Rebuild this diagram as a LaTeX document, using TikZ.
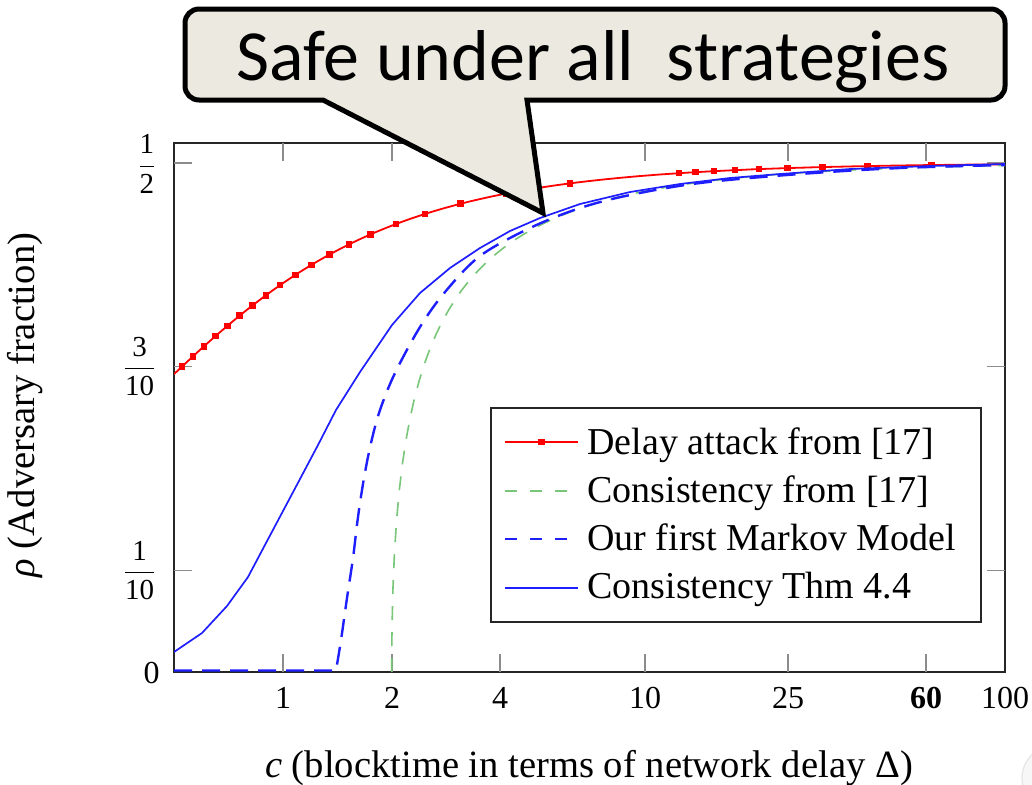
\documentclass[tikz,border=0pt]{standalone}
\usepackage{fontspec}
\setmainfont{Liberation Serif}
\newfontfamily\calloutfont{Carlito}
\definecolor{calloutfill}{RGB}{236,234,224}
\definecolor{consgreen}{RGB}{120,198,120}
\definecolor{plotblue}{RGB}{30,30,255}
\definecolor{plotred}{RGB}{255,0,0}
\begin{document}
\begin{tikzpicture}[x=0.5pt,y=-0.5pt,
  every node/.style={inner sep=0pt},
  ticklabel/.style={anchor=base, font=\fontsize{16}{19}\selectfont},
  fraclabel/.style={anchor=east, font=\fontsize{14.5}{17}\selectfont},
  axistitle/.style={anchor=base, font=\fontsize{19.3}{23}\selectfont},
  legendtext/.style={anchor=base west, font=\fontsize{19}{23}\selectfont},
  frameline/.style={line width=0.9pt, black!85},
  tickmark/.style={line width=0.55pt, black!45},
  delaycurve/.style={plotred, line width=0.9pt, line join=round},
  greencurve/.style={consgreen, line width=0.8pt, dash pattern=on 7pt off 6pt},
  markovcurve/.style={plotblue, line width=1.2pt, dash pattern=on 9pt off 5pt},
  thmcurve/.style={plotblue, line width=0.85pt, line join=round},
  legendgreen/.style={consgreen, line width=0.8pt, dash pattern=on 6pt off 6.5pt},
  legendblue/.style={plotblue, line width=0.9pt, dash pattern=on 6pt off 6.5pt},
  redmark/.style={fill=plotred, draw=none},
  calloutshape/.style={fill=calloutfill, draw=black, line width=2.5pt},
  declare function={
    cofx(\p)=exp((\p-283)/156.8);
    delayrho(\c)=2/(2+1/\c+sqrt(4+1/(\c*\c)));
    greenx(\v)=283+156.8*ln(2+\v*\v);
    greenrho(\v)=\v/(\v+sqrt(2+\v*\v));
  }]
\useasboundingbox (0,0) rectangle (1032,784);
\fill[white] (0,0) rectangle (1032,784);

% faint round control in the lower right corner
\begin{scope}
  \clip (0,0) rectangle (1032,784);
  \filldraw[fill=gray!6, draw=gray!20, line width=0.6pt] (1054,778) circle (32);
\end{scope}

% ---- axis frame and ticks ----
\draw[frameline] (174,143) rectangle (1005,672);
\foreach \tx in {283,392,500,645,788,926}{
  \draw[tickmark] (\tx,672) -- (\tx,654);
  \draw[tickmark] (\tx,143) -- (\tx,161);
}
\foreach \ty in {570.2,366.6,163}{
  \draw[tickmark] (174,\ty) -- (192,\ty);
  \draw[tickmark] (1005,\ty) -- (987,\ty);
}

% x tick labels
\node[ticklabel] (xa) at (283,708) {1};
\node[ticklabel] (xb) at (392,708) {2};
\node[ticklabel] (xc) at (500,708) {4};
\node[ticklabel] (xd) at (645,708) {10};
\node[ticklabel] (xe) at (788,708) {25};
\node[ticklabel] (xf) at (926,708) {\textbf{60}};
\node[ticklabel] (xg) at (1005,708) {100};

% y tick labels
\node[ticklabel, anchor=east] (ya) at (160,673) {0};
\node[fraclabel] (yb) at (157,570.2) {$\displaystyle\frac{\mbox{1}}{\mbox{10}}$};
\node[fraclabel] (yc) at (157,366.6) {$\displaystyle\frac{\mbox{3}}{\mbox{10}}$};
\node[fraclabel] (yd) at (157,164) {$\displaystyle\frac{\mbox{1}}{\mbox{2}}$};

% axis titles
\node[axistitle] (xtitle) at (589,777) {\textit{c} (blocktime in terms of network delay Δ)};
\node[axistitle, rotate=90] (ytitle) at (34,405) {\textit{ρ} (Adversary fraction)};

% ---- curves ----
\begin{scope}
  \clip (174,143) rectangle (1005,672);
  % delay attack
  \draw[delaycurve] plot[domain=174:1005, samples=160, variable=\px]
    (\px, {672-1018*delayrho(cofx(\px))});
  \foreach \r in {0.30,0.31,0.32,0.33,0.34,0.35,0.36,0.37,0.38,0.39,0.40,
                  0.41,0.42,0.43,0.44,0.45,0.46,0.47,0.48,0.49,
                  0.491,0.492,0.493,0.494,0.495,0.496,0.497,0.498}{
    \pgfmathsetmacro\mx{283+156.8*ln(\r*(1-\r)/(1-2*\r))}
    \pgfmathsetmacro\my{672-1018*\r}
    \fill[redmark] (\mx-3.3,\my-3.3) rectangle (\mx+3.3,\my+3.3);
  }
  % consistency from [17]
  \draw[greencurve] plot[domain=0:9.9, samples=160, variable=\v]
    ({greenx(\v)}, {672-1018*greenrho(\v)});
  % first Markov model
  \draw[markovcurve] (174,670.5) -- plot[smooth, tension=0.55] coordinates {
    (336,670.5) (341,640) (347,598) (353,558) (358,517) (364,478) (371,443)
    (380,410) (395,373) (420,327) (445,292) (480,256) (530,228) (580,208)
    (630,195) (700,183) (800,174) (900,168) (1005,165)};
  % consistency theorem 4.4
  \draw[thmcurve] (174,652) -- (202,633) -- (227,606) -- (248,577) -- (266,543)
    -- (283,511) -- (300,479) -- (318,445) -- (336,410) -- (360,372)
    -- (392,325) -- (420,293) -- (450,268) -- (480,248) -- (510,231)
    -- (540,218) -- (580,204) -- (630,192) -- (680,184) -- (730,178)
    -- (780,174) -- (850,169) -- (930,166) -- (1005,164);
\end{scope}

% ---- legend ----
\filldraw[fill=white, draw=black!85, line width=0.6pt] (491,408) rectangle (981,622);
\draw[delaycurve] (505,442) -- (578,442);
\fill[redmark] (538,438.7) rectangle (544.6,445.3);
\node[legendtext] (la) at (587,454) {Delay attack from [17]};
\draw[legendgreen] (505,491) -- (578,491);
\node[legendtext] (lb) at (587,502) {Consistency from [17]};
\draw[legendblue] (505,539) -- (578,539);
\node[legendtext] (lc) at (587,550) {Our first Markov Model};
\draw[thmcurve] (505,588) -- (578,588);
\node[legendtext] (ld) at (587,598) {Consistency Thm 4.4};

% ---- callout ----
\draw[calloutshape]
  (323,100) -- (199,100) arc[start angle=90, end angle=180, radius=14]
  -- (185,23) arc[start angle=180, end angle=270, radius=14]
  -- (991,9) arc[start angle=270, end angle=360, radius=14]
  -- (1005,86) arc[start angle=0, end angle=90, radius=14]
  -- (527,100) -- (543,213) -- cycle;
\node[anchor=base, font=\calloutfont\fontsize{36}{40}\selectfont] (safe) at (593,80)
  {Safe under all~ strategies};
\end{tikzpicture}
\end{document}
